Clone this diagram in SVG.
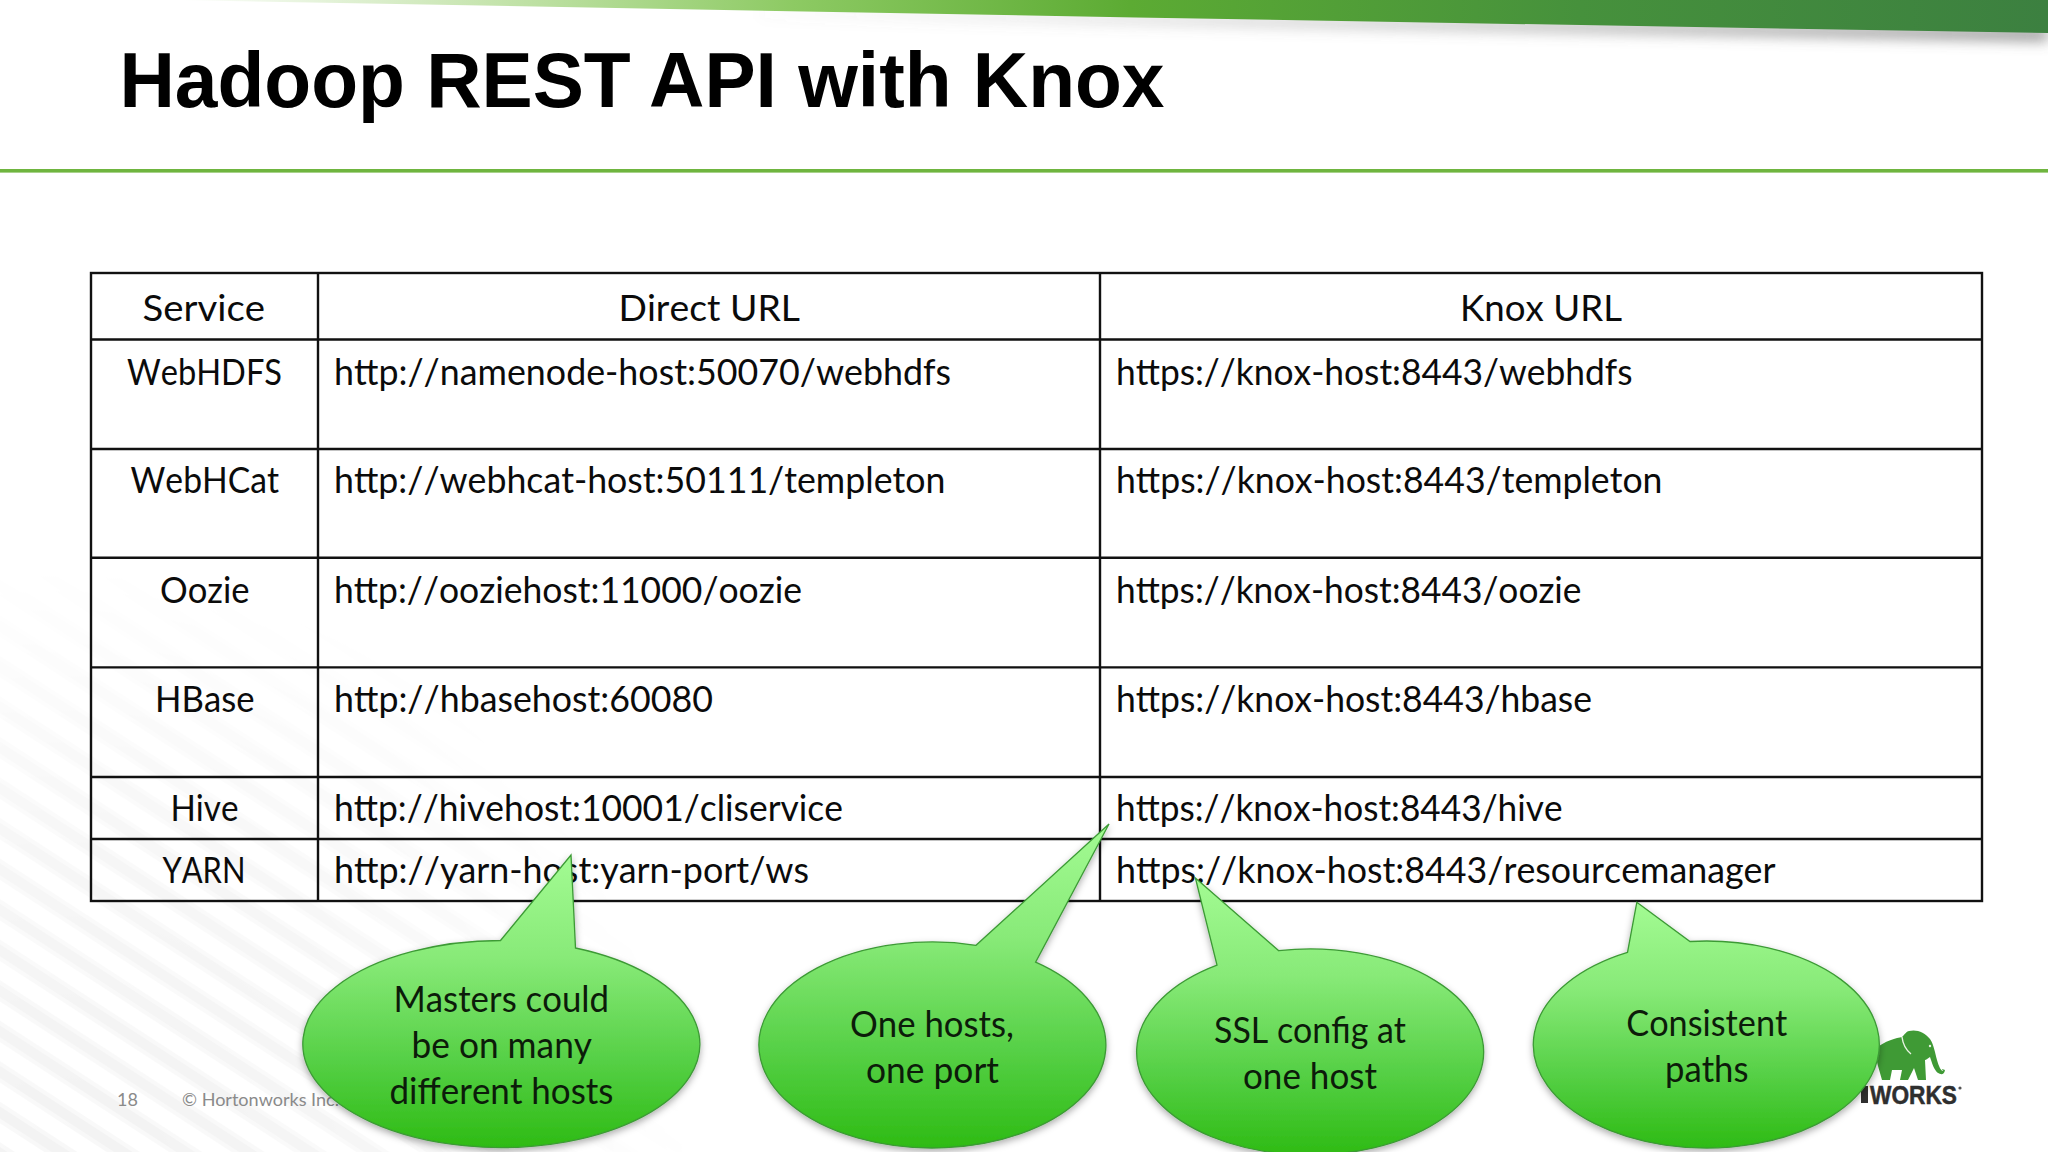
<svg xmlns="http://www.w3.org/2000/svg" width="2048" height="1152" viewBox="0 0 2048 1152">
<style>
.t{font-family:Lato,"Liberation Sans",sans-serif;font-size:37.5px;fill:#0b0b0b;font-kerning:none}
.c{font-family:Lato,"Liberation Sans",sans-serif;font-size:37.5px;fill:#0c1c0a;font-kerning:none}
.f{font-family:Lato,"Liberation Sans",sans-serif;fill:#8a8a8a;font-size:18px}
.grid{stroke:#111;stroke-width:2.4;fill:none}
.bubble{fill:url(#bub);stroke:#3c9a35;stroke-width:1.3;filter:url(#sh)}
</style>
<defs>
<linearGradient id="ban" gradientUnits="userSpaceOnUse" x1="175" y1="0" x2="2048" y2="0">
<stop offset="0" stop-color="#fff"/><stop offset=".17" stop-color="#c5e4ad"/><stop offset=".33" stop-color="#8dca63"/><stop offset=".51" stop-color="#5cab33"/><stop offset=".75" stop-color="#46913c"/><stop offset="1" stop-color="#3c8040"/>
</linearGradient>
<linearGradient id="bansh" gradientUnits="userSpaceOnUse" x1="700" y1="0" x2="2048" y2="0">
<stop offset="0" stop-color="#777" stop-opacity="0"/><stop offset="1" stop-color="#666" stop-opacity=".85"/>
</linearGradient>
<linearGradient id="bub" x1="0" y1="0" x2="0" y2="1">
<stop offset="0" stop-color="#a3fb93"/><stop offset=".35" stop-color="#88ea78"/><stop offset=".7" stop-color="#56d046"/><stop offset="1" stop-color="#2ebb14"/>
</linearGradient>
<filter id="sh" x="-10%" y="-10%" width="120%" height="125%"><feDropShadow dx="0" dy="3" stdDeviation="3.5" flood-color="#000" flood-opacity=".32"/></filter>
<filter id="b8" x="-5%" y="-100%" width="110%" height="400%"><feGaussianBlur stdDeviation="7"/></filter>
<pattern id="stripes" width="34" height="34" patternUnits="userSpaceOnUse" patternTransform="rotate(33)">
<rect width="34" height="34" fill="#fff"/><rect y="6" width="34" height="4" fill="#f8f8f8"/><rect y="10" width="34" height="10" fill="#f2f2f2"/><rect y="20" width="34" height="4" fill="#f8f8f8"/>
</pattern>
<radialGradient id="fade" gradientUnits="userSpaceOnUse" cx="60" cy="1200" r="640">
<stop offset="0" stop-color="#fff"/><stop offset=".55" stop-color="#aaa"/><stop offset="1" stop-color="#000"/>
</radialGradient>
<mask id="m"><rect width="2048" height="1152" fill="url(#fade)"/></mask>
</defs>
<rect width="2048" height="1152" fill="#fff"/>
<rect width="2048" height="1152" fill="url(#stripes)" mask="url(#m)"/>
<polygon points="760,16 1136,24 2048,40 2048,30 760,10" fill="url(#bansh)" filter="url(#b8)"/>
<polygon points="175,0 2048,0 2048,33 1136,17.5" fill="url(#ban)"/>
<text x="119.5" y="106.5" font-family="'Liberation Sans',Arial,sans-serif" font-weight="700" font-size="78" fill="#000" textLength="1045" lengthAdjust="spacingAndGlyphs">Hadoop REST API with Knox</text>
<rect x="0" y="169" width="2048" height="3.6" fill="#6fb53f"/>

<g id="table">
<rect x="91" y="273" width="1891" height="628" fill="#fff" class="grid"/>
<path class="grid" d="M318 273V901M1100 273V901M91 339.5H1982M91 449H1982M91 557.7H1982M91 667.4H1982M91 777H1982M91 839H1982"/>
<g class="cells">
<text class="t" x="142.5" y="320.5" textLength="122.5" lengthAdjust="spacingAndGlyphs">Service</text>
<text class="t" x="618.5" y="320.5" textLength="181.5" lengthAdjust="spacingAndGlyphs">Direct URL</text>
<text class="t" x="1460" y="320.5" textLength="162" lengthAdjust="spacingAndGlyphs">Knox URL</text>
<text class="t" x="127" y="384.5" textLength="155" lengthAdjust="spacingAndGlyphs">WebHDFS</text>
<text class="t" x="334" y="384.5" textLength="617" lengthAdjust="spacingAndGlyphs">http://namenode-host:50070/webhdfs</text>
<text class="t" x="1116" y="384.5" textLength="516.5" lengthAdjust="spacingAndGlyphs">https://knox-host:8443/webhdfs</text>
<text class="t" x="130.5" y="493" textLength="148.5" lengthAdjust="spacingAndGlyphs">WebHCat</text>
<text class="t" x="334" y="493" textLength="611.5" lengthAdjust="spacingAndGlyphs">http://webhcat-host:50111/templeton</text>
<text class="t" x="1116" y="493" textLength="546.5" lengthAdjust="spacingAndGlyphs">https://knox-host:8443/templeton</text>
<text class="t" x="160" y="602.5" textLength="89.5" lengthAdjust="spacingAndGlyphs">Oozie</text>
<text class="t" x="334" y="602.5" textLength="468" lengthAdjust="spacingAndGlyphs">http://ooziehost:11000/oozie</text>
<text class="t" x="1116" y="602.5" textLength="465.5" lengthAdjust="spacingAndGlyphs">https://knox-host:8443/oozie</text>
<text class="t" x="155" y="711.5" textLength="99.5" lengthAdjust="spacingAndGlyphs">HBase</text>
<text class="t" x="334" y="711.5" textLength="379" lengthAdjust="spacingAndGlyphs">http://hbasehost:60080</text>
<text class="t" x="1116" y="711.5" textLength="476" lengthAdjust="spacingAndGlyphs">https://knox-host:8443/hbase</text>
<text class="t" x="170.5" y="821" textLength="68" lengthAdjust="spacingAndGlyphs">Hive</text>
<text class="t" x="334" y="821" textLength="509" lengthAdjust="spacingAndGlyphs">http://hivehost:10001/cliservice</text>
<text class="t" x="1116" y="821" textLength="446.5" lengthAdjust="spacingAndGlyphs">https://knox-host:8443/hive</text>
<text class="t" x="162.5" y="883" textLength="83" lengthAdjust="spacingAndGlyphs">YARN</text>
<text class="t" x="334" y="883" textLength="475" lengthAdjust="spacingAndGlyphs">http://yarn-host:yarn-port/ws</text>
<text class="t" x="1116" y="883" textLength="659.5" lengthAdjust="spacingAndGlyphs">https://knox-host:8443/resourcemanager</text>
</g>
</g>

<g id="footer">
<text class="f" x="117" y="1105.5">18</text>
<text class="f" x="182" y="1105.5" textLength="157" lengthAdjust="spacingAndGlyphs">© Hortonworks Inc.</text>
</g>

<g id="logo">
<path fill="#3f9a35" d="M1874 1050C1885 1040 1897 1038 1902 1037C1905 1034 1907 1031 1909 1031C1916 1029 1925 1032 1930 1039C1934 1045 1935 1053 1937 1060C1939 1067 1941 1071 1943 1071C1944 1071 1942 1070 1942 1069L1945 1070C1944 1076 1940 1074 1938 1073C1934 1070 1932 1063 1930 1057C1928 1058 1926 1060 1925 1060L1926 1080H1918L1914 1068L1908 1080H1900L1902 1070H1892L1890 1080H1882L1878 1066Z"/>
<path d="M1902 1037C1903 1045 1906 1050 1911 1054" fill="none" stroke="#e8f3e2" stroke-width="1.4"/>
<circle cx="1930" cy="1046" r="1.2" fill="#e8f3e2"/>
<text x="1870" y="1103.5" font-family="'Liberation Sans',Arial,sans-serif" font-weight="700" font-size="25" fill="#2f2f2f" stroke="#2f2f2f" stroke-width=".5" textLength="87" lengthAdjust="spacingAndGlyphs">WORKS</text>
<rect x="1861" y="1086" width="7" height="17" fill="#2f2f2f"/>
<circle cx="1960" cy="1088" r="1.6" fill="#555"/>
</g>

<g id="callout-masters">
<path class="bubble" d="M571 855L575.5 948A198.5 103.5 0 1 1 500.5 940.5Z"/>
<text class="c" x="393.5" y="1011.5" textLength="215.5" lengthAdjust="spacingAndGlyphs">Masters could</text>
<text class="c" x="411.5" y="1057.5" textLength="180.5" lengthAdjust="spacingAndGlyphs">be on many</text>
<text class="c" x="389.5" y="1103.5" textLength="224" lengthAdjust="spacingAndGlyphs">different hosts</text>
</g>
<g id="callout-port">
<path class="bubble" d="M1109 824L1035.6 962.2A173.5 103 0 1 1 976 945.3Z"/>
<text class="c" x="850" y="1036.5" textLength="164" lengthAdjust="spacingAndGlyphs">One hosts,</text>
<text class="c" x="866" y="1083" textLength="133" lengthAdjust="spacingAndGlyphs">one port</text>
</g>
<g id="callout-ssl">
<path class="bubble" d="M1195.4 878L1278.8 950.7A173.5 103 0 1 1 1217 965.1Z"/>
<text class="c" x="1214" y="1043" textLength="192" lengthAdjust="spacingAndGlyphs">SSL config at</text>
<text class="c" x="1243" y="1089" textLength="134" lengthAdjust="spacingAndGlyphs">one host</text>
</g>
<g id="callout-paths">
<path class="bubble" d="M1636.8 902.3L1690 941.5A173 103.5 0 1 1 1627.5 952.4Z"/>
<text class="c" x="1626.3" y="1035.5" textLength="161" lengthAdjust="spacingAndGlyphs">Consistent</text>
<text class="c" x="1665" y="1081.5" textLength="83.5" lengthAdjust="spacingAndGlyphs">paths</text>
</g>
</svg>
